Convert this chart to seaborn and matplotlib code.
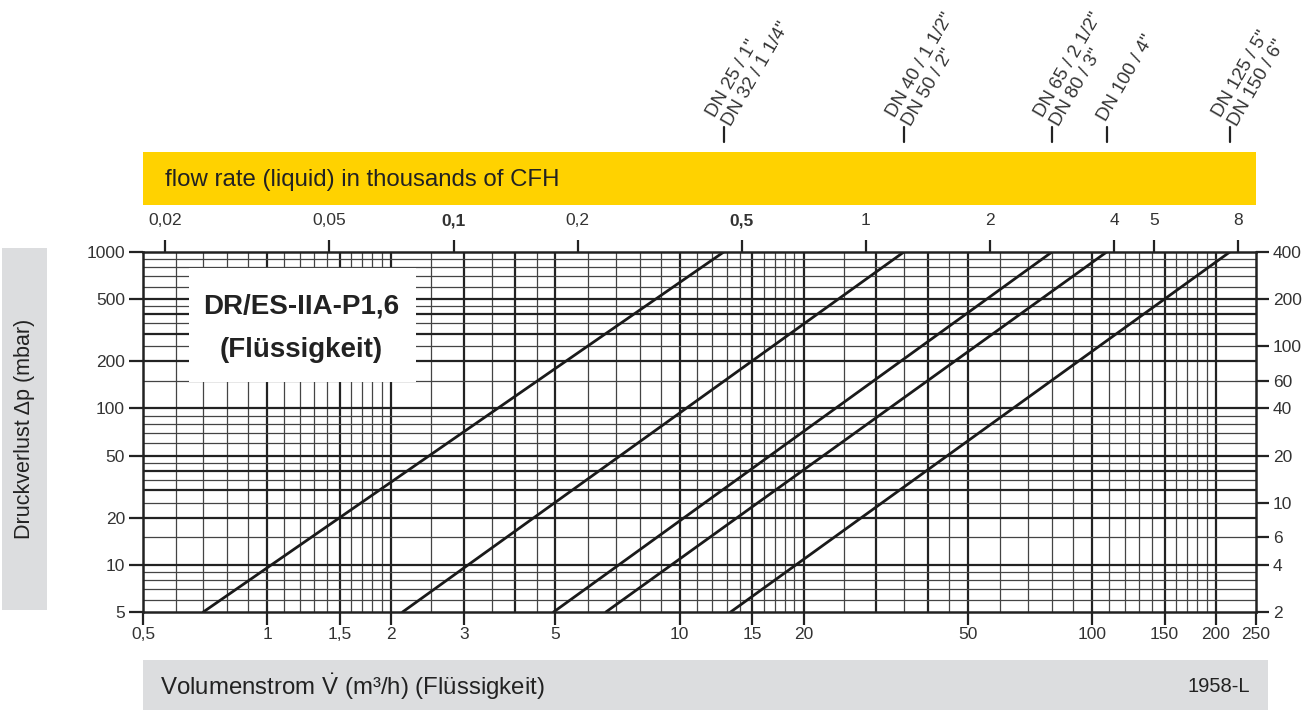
import numpy as np
import pandas as pd
import matplotlib
matplotlib.use("Agg")
import matplotlib.pyplot as plt
import seaborn as sns
from matplotlib.patches import Rectangle
from matplotlib import transforms

# ---------------- data ----------------
dn_labels = ['DN 25 / 1"\nDN 32 / 1 1/4"', 'DN 40 / 1 1/2"\nDN 50 / 2"',
             'DN 65 / 2 1/2"\nDN 80 / 3"', 'DN 100 / 4"', 'DN 125 / 5"\nDN 150 / 6"']
flow_at_5mbar = [0.70, 2.13, 4.95, 6.63, 13.3]          # m3/h at 5 mbar
flow_at_1000mbar = [12.8, 35.0, 80.0, 108.6, 216.0]     # m3/h at 1000 mbar
dp_ends = [5, 1000]                                      # mbar

x_ticks = [0.5, 1, 1.5, 2, 3, 5, 10, 15, 20, 50, 100, 150, 200, 250]
x_tick_labels = ['0,5', '1', '1,5', '2', '3', '5', '10', '15', '20', '50', '100', '150', '200', '250']
y_ticks = [5, 10, 20, 50, 100, 200, 500, 1000]
y_tick_labels = ['5', '10', '20', '50', '100', '200', '500', '1000']
cfh_ticks = [0.02, 0.05, 0.1, 0.2, 0.5, 1, 2, 4, 5, 8]
cfh_tick_labels = ['0,02', '0,05', '0,1', '0,2', '0,5', '1', '2', '4', '5', '8']
inwc_ticks = [2, 4, 6, 10, 20, 40, 60, 100, 200, 400]
inwc_tick_labels = ['2', '4', '6', '10', '20', '40', '60', '100', '200', '400']

# grid structure (multipliers per decade)
x_grid_thin = [1.1, 1.2, 1.3, 1.4, 1.6, 1.7, 1.8, 1.9, 2.5, 3.5, 4.5, 6, 7, 8, 9]
x_grid_thick = [1, 1.5, 2, 3, 4, 5]
y_grid_thin = [1.5, 2.5, 3.5, 4.5, 6, 7, 8, 9]
y_grid_thick = [1, 2, 3, 4, 5]

M3H_TO_KCFH = 0.0353147
MBAR_PER_INWC = 2.5

# ---------------- style ----------------
sns.set_style("white")
plt.rcParams['font.family'] = ['Liberation Sans', 'DejaVu Sans']
plt.rcParams['mathtext.fontset'] = 'custom'
plt.rcParams['mathtext.rm'] = 'Liberation Sans'
plt.rcParams['mathtext.it'] = 'Liberation Sans:italic'
TXT = '#333333'
TICK_FS = 12.5

W, H = 1313, 711
fig = plt.figure(figsize=(W / 100, H / 100), dpi=100)
ax = fig.add_axes([143 / W, 99 / H, 1113 / W, 360 / H])

# long-form data frame for seaborn
rows = []
for lab, a, b in zip(dn_labels, flow_at_5mbar, flow_at_1000mbar):
    rows.append({'size': lab, 'flow': a, 'dp': dp_ends[0]})
    rows.append({'size': lab, 'flow': b, 'dp': dp_ends[1]})
df = pd.DataFrame(rows)

ax.set_xscale('log')
ax.set_yscale('log')
ax.set_xlim(0.5, 250)
ax.set_ylim(5, 1000)

# grid lines
for dec in [0.1, 1, 10, 100]:
    for m in x_grid_thin:
        v = m * dec
        if 0.5 < v < 250:
            ax.axvline(v, color='#444444', lw=0.9, zorder=1)
    for m in x_grid_thick:
        v = m * dec
        if 0.5 < v < 250:
            ax.axvline(v, color='#222222', lw=1.6, zorder=1)
for dec in [1, 10, 100]:
    for m in y_grid_thin:
        v = m * dec
        if 5 < v < 1000:
            ax.axhline(v, color='#444444', lw=0.9, zorder=1)
    for m in y_grid_thick:
        v = m * dec
        if 5 < v < 1000:
            ax.axhline(v, color='#222222', lw=1.6, zorder=1)

# white title box (covers the grid)
ax.add_patch(Rectangle(((189 - 143) / 1113, (612 - 382) / 360), 227 / 1113, 114 / 360,
                       transform=ax.transAxes, fc='white', ec='none', zorder=2))
ax.text((301 - 143) / 1113, (612 - 328) / 360, 'DR/ES-IIA-P1,6\n(Flüssigkeit)', transform=ax.transAxes,
        ha='center', va='center', fontsize=20, fontweight='bold', color='#222222',
        linespacing=1.9, zorder=6)

sns.lineplot(data=df, x='flow', y='dp', hue='size', palette=['#1a1a1a'] * len(dn_labels),
             estimator=None, legend=False, lw=2.0, ax=ax, zorder=3)
ax.set_xlim(0.5, 250)
ax.set_ylim(5, 1000)
ax.set_xlabel('')
ax.set_ylabel('')

for s in ax.spines.values():
    s.set_linewidth(1.8)
    s.set_color('#222222')
    s.set_zorder(4)

ax.set_xticks(x_ticks)
ax.set_xticklabels(x_tick_labels)
ax.set_yticks(y_ticks)
ax.set_yticklabels(y_tick_labels)
ax.minorticks_off()
ax.tick_params(axis='x', which='major', direction='out', length=9, width=1.6, color='#222222',
               labelsize=TICK_FS, labelcolor=TXT, pad=2, bottom=True)
ax.tick_params(axis='y', which='major', direction='out', length=10, width=1.6, color='#222222',
               labelsize=TICK_FS, labelcolor=TXT, pad=3, left=True)

# top axis (thousands of CFH)
top = ax.secondary_xaxis('top', functions=(lambda v: v * M3H_TO_KCFH, lambda v: v / M3H_TO_KCFH))
top.set_xticks(cfh_ticks)
top.set_xticklabels(cfh_tick_labels)
top.minorticks_off()
top.tick_params(axis='x', direction='out', length=9, width=1.6, color='#222222',
                labelsize=TICK_FS, labelcolor=TXT, pad=8)
for lbl in top.get_xticklabels():
    if lbl.get_text() in ('0,1', '0,5'):
        lbl.set_fontweight('bold')
top.spines['top'].set_visible(False)

# right axis (inches WC)
right = ax.secondary_yaxis('right', functions=(lambda v: v / MBAR_PER_INWC, lambda v: v * MBAR_PER_INWC))
right.set_yticks(inwc_ticks)
right.set_yticklabels(inwc_tick_labels)
right.minorticks_off()
right.tick_params(axis='y', direction='out', length=9, width=1.6, color='#222222',
                  labelsize=TICK_FS, labelcolor=TXT, pad=3)
right.spines['right'].set_visible(False)

# bands
fig.patches.append(Rectangle((143 / W, (H - 205) / H), 1113 / W, 53 / H, transform=fig.transFigure,
                             fc='#FFD200', ec='none', zorder=0))
fig.text(165 / W, (H - 180) / H, 'flow rate (liquid) in thousands of CFH', ha='left', va='center',
         fontsize=17.3, color='#222222')
fig.patches.append(Rectangle((143 / W, (H - 710) / H), 1125 / W, 50 / H, transform=fig.transFigure,
                             fc='#DCDDDF', ec='none', zorder=0))
fig.text(160 / W, (H - 687) / H, r'Volumenstrom $\dot{\mathrm{V}}$ (m³/h) (Flüssigkeit)', ha='left',
         va='center', fontsize=17.3, color='#222222')
fig.text(1250 / W, (H - 687) / H, '1958-L', ha='right', va='center', fontsize=14.5, color='#222222')
fig.patches.append(Rectangle((2 / W, (H - 610) / H), 45 / W, 362 / H, transform=fig.transFigure,
                             fc='#DCDDDF', ec='none', zorder=0))
fig.text(25 / W, (H - 429) / H, 'Druckverlust \u0394p (mbar)', ha='center', va='center', rotation=90,
         fontsize=15.5, color='#222222')

# DN markers above the yellow band
blend = transforms.blended_transform_factory(ax.transData, fig.transFigure)
for lab, xv in zip(dn_labels, flow_at_1000mbar):
    ax.plot([xv, xv], [(H - 142) / H, (H - 127) / H], transform=blend, color='#222222', lw=1.6,
            clip_on=False)
    t = transforms.offset_copy(blend, fig=fig, x=-5, y=0, units='dots')
    ax.text(xv, (H - 120) / H, lab, transform=t, rotation=60, rotation_mode='anchor',
            ha='left', va='center', fontsize=13.5, color=TXT, linespacing=1.1, clip_on=False)

fig.savefig('out.png', dpi=100)
